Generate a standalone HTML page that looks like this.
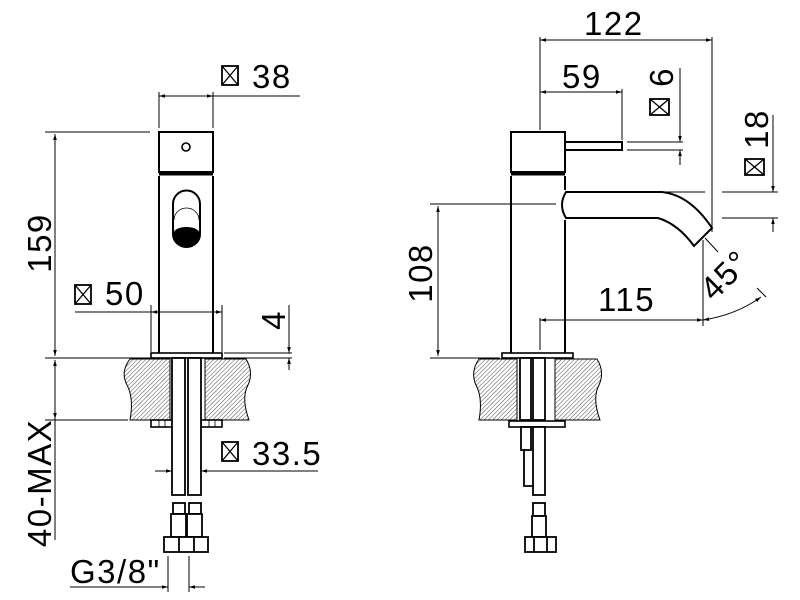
<!DOCTYPE html>
<html><head><meta charset="utf-8"><style>
html,body{margin:0;padding:0;background:#fff}
svg{display:block}
text{font-family:"Liberation Sans",Arial,sans-serif;fill:#000}
.t{font-size:33px;letter-spacing:1.5px}
</style></head><body>
<svg width="800" height="600" viewBox="0 0 800 600" xmlns="http://www.w3.org/2000/svg">
<defs>
<pattern id="h" patternUnits="userSpaceOnUse" width="3" height="3" patternTransform="rotate(45)">
<line x1="0" y1="0" x2="0" y2="3" stroke="#000" stroke-width="0.7"/>
</pattern>
<marker id="a" viewBox="0 0 10 10" refX="10" refY="5" markerWidth="9" markerHeight="6" orient="auto-start-reverse" markerUnits="userSpaceOnUse">
<path d="M0,2 L10,5 L0,8 z" fill="#000"/>
</marker>
<g id="bx"><rect x="0" y="0" width="16" height="19" fill="none" stroke="#000" stroke-width="1.8"/><path d="M0,0 L16,19 M16,0 L0,19" stroke="#000" stroke-width="1.3"/></g>
</defs>

<g fill="none" stroke="#000" stroke-width="1">
<line x1="159" y1="92" x2="159" y2="128"/>
<line x1="213" y1="92" x2="213" y2="128"/>
<line x1="159" y1="96" x2="213" y2="96" marker-start="url(#a)" marker-end="url(#a)"/>
<line x1="213" y1="96" x2="300" y2="96"/>

<line x1="45" y1="132" x2="150" y2="132"/>
<line x1="55" y1="134" x2="55" y2="356" marker-start="url(#a)" marker-end="url(#a)"/>
<line x1="45" y1="358" x2="150" y2="358"/>
<line x1="55" y1="360" x2="55" y2="419" marker-start="url(#a)" marker-end="url(#a)"/>
<line x1="55" y1="419" x2="55" y2="540"/>
<line x1="45" y1="420" x2="128" y2="420"/>

<line x1="75" y1="312" x2="151" y2="312"/>
<line x1="151" y1="312" x2="222" y2="312" marker-start="url(#a)" marker-end="url(#a)"/>
<line x1="151" y1="305" x2="151" y2="352"/>
<line x1="222" y1="305" x2="222" y2="352"/>

<line x1="224" y1="353" x2="292" y2="353"/>
<line x1="224" y1="358" x2="292" y2="358"/>
<line x1="289" y1="305" x2="289" y2="353" marker-end="url(#a)"/>
<line x1="289" y1="370" x2="289" y2="358" marker-end="url(#a)"/>

<line x1="155" y1="471" x2="172" y2="471" marker-end="url(#a)"/>
<line x1="318" y1="471" x2="201" y2="471" marker-end="url(#a)"/>

<line x1="70" y1="587" x2="168" y2="587" marker-end="url(#a)"/>
<line x1="205" y1="587" x2="189" y2="587" marker-end="url(#a)"/>
<line x1="168" y1="556" x2="168" y2="592"/>
<line x1="189" y1="556" x2="189" y2="592"/>
</g>

<g fill="none" stroke="#000" stroke-width="2">
<rect x="159" y="132" width="54" height="40"/>
<line x1="159" y1="174" x2="213" y2="174" stroke-width="3"/>
<path d="M159,176 V353 M213,176 V353"/>
<rect x="151" y="353" width="71" height="5" stroke-width="1.6"/>
</g>
<circle cx="186" cy="147" r="4" fill="none" stroke="#000" stroke-width="1.6"/>
<path d="M173,204 A13.5,13.5 0 0 1 200,204 V234 A13.5,13 0 0 1 173,234 Z" fill="none" stroke="#000" stroke-width="2"/>
<path d="M174,220 A12.5,12 0 0 1 199,220" fill="none" stroke="#000" stroke-width="0.8"/>
<path d="M173,234 A13.5,7 0 0 1 200,234 A13.5,13 0 0 1 173,234 Z" fill="#000"/>

<g stroke="#000" stroke-width="1" fill="url(#h)">
<path d="M170,359 H130 Q120,372 127,385 Q134,398 130,420 H170 Z"/>
<path d="M205,359 H246 Q254,372 248,385 Q241,398 249,420 H205 Z"/>
</g>
<g fill="#fff" stroke="#000" stroke-width="1.6">
<rect x="151" y="420" width="24" height="7"/>
<rect x="201" y="420" width="21" height="7"/>
</g>
<g stroke="#000" stroke-width="0.8"><path d="M159,420v7 M165,420v7 M209,420v7 M215,420v7"/></g>
<g fill="#fff" stroke="#000" stroke-width="1.8">
<rect x="172" y="358" width="13" height="137"/>
<rect x="188" y="358" width="13" height="137"/>
<rect x="173" y="503" width="12" height="11"/>
<rect x="189" y="503" width="12" height="11"/>
<rect x="171" y="514" width="15" height="23"/>
<rect x="187" y="514" width="15" height="23"/>
<rect x="164" y="537" width="44" height="15"/>
<path d="M179,537v15 M194,537v15"/>
</g>

<g fill="none" stroke="#000" stroke-width="1">
<line x1="540" y1="40" x2="712" y2="40" marker-start="url(#a)" marker-end="url(#a)"/>
<line x1="540" y1="37" x2="540" y2="130"/>
<line x1="712" y1="37" x2="712" y2="232"/>
<line x1="540" y1="92" x2="622" y2="92" marker-start="url(#a)" marker-end="url(#a)"/>
<line x1="622" y1="89" x2="622" y2="140"/>
<line x1="627" y1="142" x2="683" y2="142"/>
<line x1="627" y1="150" x2="683" y2="150"/>
<line x1="680" y1="68" x2="680" y2="142" marker-end="url(#a)"/>
<line x1="680" y1="165" x2="680" y2="150" marker-end="url(#a)"/>
<line x1="665" y1="192" x2="705" y2="192"/>
<line x1="722" y1="192" x2="778" y2="192"/>
<line x1="722" y1="218" x2="778" y2="218"/>
<line x1="773" y1="115" x2="773" y2="192" marker-end="url(#a)"/>
<line x1="773" y1="232" x2="773" y2="218" marker-end="url(#a)"/>
<line x1="430" y1="204" x2="556" y2="204"/>
<line x1="438" y1="206" x2="438" y2="356" marker-start="url(#a)" marker-end="url(#a)"/>
<line x1="430" y1="358" x2="500" y2="358"/>
<line x1="540" y1="320" x2="703" y2="320" marker-start="url(#a)" marker-end="url(#a)"/>
<line x1="540" y1="318" x2="540" y2="350"/>
<line x1="703" y1="240" x2="703" y2="326"/>
<line x1="705" y1="238" x2="718" y2="252"/>
<path d="M703,320 Q736,315 761,297" marker-start="url(#a)" marker-end="url(#a)"/>
<line x1="757" y1="288" x2="766" y2="297"/>
</g>

<g fill="none" stroke="#000" stroke-width="2">
<rect x="511" y="132" width="54" height="40"/>
<line x1="511" y1="174" x2="565" y2="174" stroke-width="3"/>
<path d="M511,176 V353 M565,176 V190 M565,220 V353"/>
<path d="M566,142 H622 V150 H566"/>
<path d="M566,192 H662 Q690,195 712,228 L694,246 Q678,224 658,218 H566 Q558,205 566,192 Z"/>
<rect x="502" y="353" width="71" height="5" stroke-width="1.6"/>
</g>

<g stroke="#000" stroke-width="1" fill="url(#h)">
<path d="M517,359 H479 Q470,372 476,385 Q483,398 479,420 H517 Z"/>
<path d="M555,359 H597 Q605,372 599,385 Q592,398 600,420 H555 Z"/>
</g>
<g fill="#fff" stroke="#000" stroke-width="1.8">
<rect x="520" y="358" width="11" height="62"/>
<rect x="533" y="358" width="12" height="62"/>
<rect x="509" y="421" width="56" height="6" stroke-width="1.6"/>
<rect x="521" y="427" width="10" height="23"/>
<path d="M524,450 V486 H533"/>
<rect x="533" y="427" width="12" height="68"/>
<rect x="533" y="503" width="12" height="13"/>
<rect x="532" y="516" width="14" height="21"/>
<rect x="525" y="537" width="31" height="15"/>
<path d="M534,537v15 M547,537v15"/>
</g>

<!-- box symbols -->
<use href="#bx" x="222" y="66"/>
<use href="#bx" x="75" y="285"/>
<use href="#bx" x="222" y="442"/>
<use href="#bx" transform="translate(650,115) rotate(-90)"/>
<use href="#bx" transform="translate(745,175) rotate(-90)"/>

<g class="t">
<text x="252" y="88">38</text>
<text x="105" y="305">50</text>
<text x="252" y="465">33.5</text>
<text x="70" y="583">G3/8"</text>
<text transform="translate(51,243) rotate(-90)" text-anchor="middle">159</text>
<text transform="translate(51,483) rotate(-90)" text-anchor="middle">40-MAX</text>
<text transform="translate(285,320) rotate(-90)" text-anchor="middle">4</text>
<text x="584" y="35">122</text>
<text x="562" y="88">59</text>
<text transform="translate(673,77) rotate(-90)" text-anchor="middle">6</text>
<text transform="translate(768,129) rotate(-90)" text-anchor="middle">18</text>
<text transform="translate(432,273) rotate(-90)" text-anchor="middle">108</text>
<text x="598" y="311">115</text>
<text transform="translate(733,283) rotate(-45)" text-anchor="middle">45°</text>
</g>
</svg>
</body></html>
